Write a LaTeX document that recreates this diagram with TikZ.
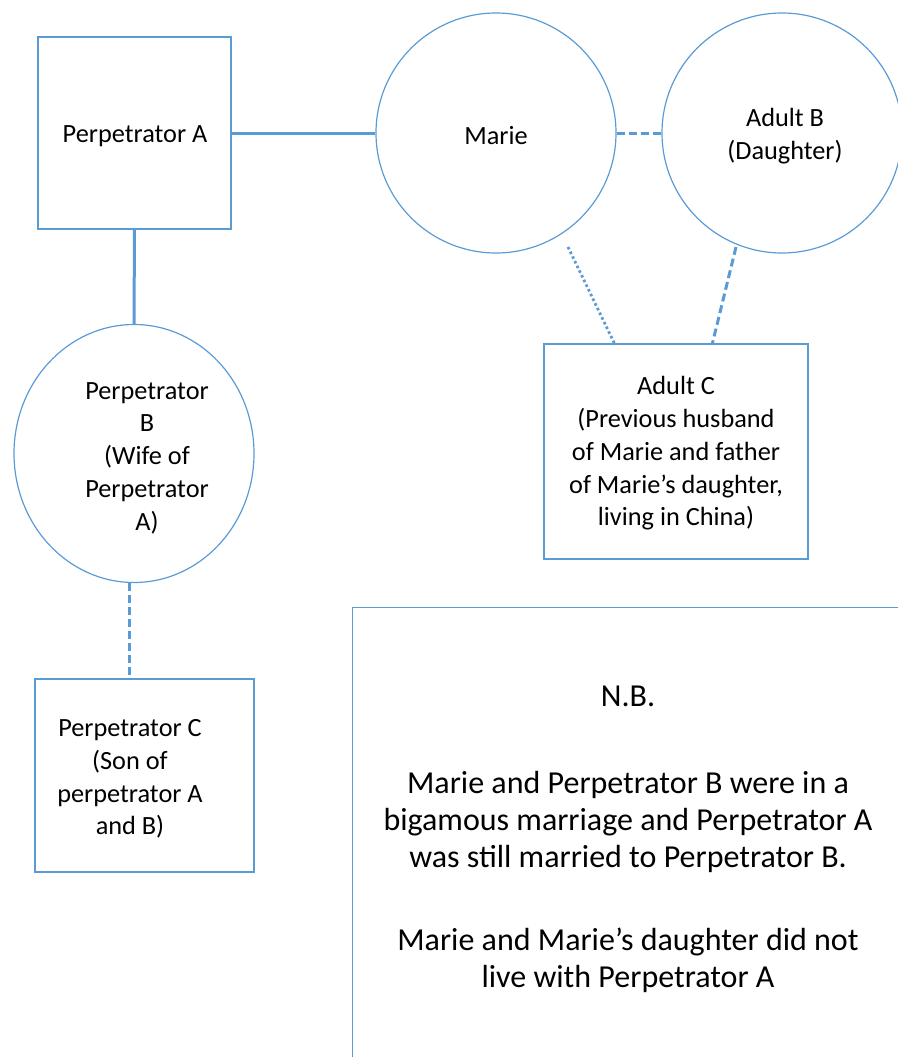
\documentclass[tikz,border=0pt]{standalone}
\usepackage{fontspec}
\setmainfont{Carlito}
\usetikzlibrary{shapes.geometric,calc}
\definecolor{office}{HTML}{5B9BD5}
\tikzset{
  shapebox/.style={draw=office,line width=1.2pt,rectangle,inner sep=0pt},
  shapecirc/.style={draw=office,line width=1.2pt,circle,inner sep=0pt,minimum size=240pt},
  txt/.style={align=center,font=\fontsize{26.3}{32.7}\selectfont,inner sep=0pt},
  nbtxt/.style={align=center,font=\fontsize{32}{37}\selectfont,inner sep=0pt},
  conn/.style={draw=office,line width=3pt},
  dashconn/.style={conn,dash pattern=on 8pt off 4pt},
  dotconn/.style={draw=office,line width=2.8pt,dash pattern=on 2.6pt off 2.6pt},
}
\begin{document}
\begin{tikzpicture}[x=1pt,y=-1pt]
\useasboundingbox (0,0) rectangle (897,1057);
% Perpetrator A box
\node[shapebox,minimum width=193pt,minimum height=192pt] (pa) at (134.5,133) {};
\node[txt] (patext) at (135,136) {Perpetrator A};
% Marie
\node[shapecirc] (marie) at (496,133) {};
\node[txt] (marietext) at (496,136) {Marie};
% Adult B
\node[shapecirc] (adb) at (782,133) {};
\node[txt] (adbtext) at (785,136) {Adult B\\(Daughter)};
% Perpetrator B ellipse
\node[draw=office,line width=1.2pt,ellipse,inner sep=0pt,minimum width=240pt,minimum height=258pt] (pb) at (134,453.5) {};
\node[txt] (pbtext) at (147,458) {Perpetrator\\B\\(Wife of\\Perpetrator\\A)};
% Adult C box
\node[shapebox,minimum width=264pt,minimum height=215pt] (adc) at (676,451.5) {};
\node[txt] (adctext) at (676,453.5) {Adult C\\(Previous husband\\of Marie and father\\of Marie’s daughter,\\living in China)};
% Perpetrator C box
\node[shapebox,minimum width=219pt,minimum height=193pt] (pc) at (144.5,775.5) {};
\node[txt] (pctext) at (130,779) {Perpetrator C\\(Son of\\perpetrator A\\and B)};
% N.B. box
\node[shapebox,minimum width=600pt,minimum height=500pt,anchor=north west] (nb) at (352,607) {};
\node[nbtxt] (nbtext) at (628,839) {N.B.\\[50pt]Marie and Perpetrator B were in a\\bigamous marriage and Perpetrator A\\was still married to Perpetrator B.\\[46pt]Marie and Marie’s daughter did not\\live with Perpetrator A};
% connectors
\draw[conn] (pa.east) -- (marie.west);
\draw[dashconn] (marie.east) -- (adb.west);
\draw[conn] (pa.south) -- (pb.north);
\draw[dashconn] (pb.-92) -- (pb.-92 |- pc.north);
\draw[dotconn] ($(marie.center)+(72,114)$) -- ($(adc.north west)+(71,0)$);
\draw[dashconn] ($(adb.center)+(-46,114)$) -- ($(adc.north west)+(169,0)$);
\end{tikzpicture}
\end{document}
